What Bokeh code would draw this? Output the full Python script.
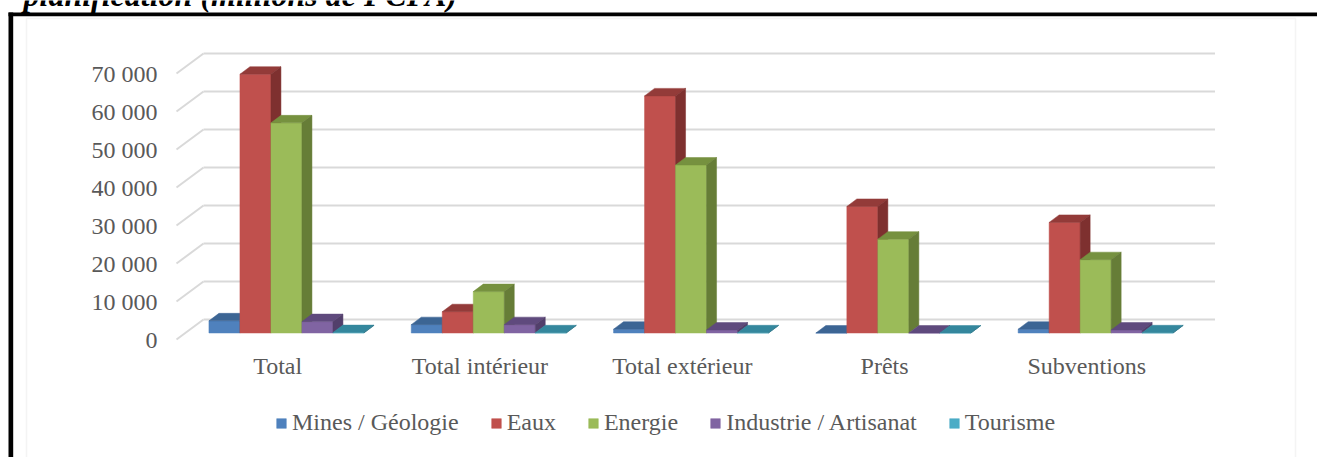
from bokeh.plotting import figure
from bokeh.models import (ColumnDataSource, Range1d, LinearAxis, FixedTicker,
                          Legend, LegendItem, BoxAnnotation, Label)
from bokeh.embed import file_html
from bokeh.resources import INLINE

# ---------------- data ----------------
title_text = "planification (millions de FCFA)"
categories = ["Total", "Total intérieur", "Total extérieur", "Prêts", "Subventions"]
series_names = ["Mines / Géologie", "Eaux", "Energie", "Industrie / Artisanat", "Tourisme"]
mines = [3200, 2200, 1000, 0, 1000]
eaux = [68100, 5600, 62400, 33300, 29100]
energie = [55300, 10900, 44200, 24700, 19300]
industrie = [3000, 2200, 800, 0, 800]
tourisme = [100, 50, 50, 0, 50]
y_ticks = [0, 10000, 20000, 30000, 40000, 50000, 60000, 70000]
y_tick_labels = ["0", "10 000", "20 000", "30 000", "40 000", "50 000", "60 000", "70 000"]

front_colors = ["#4F81BD", "#C0504D", "#9BBB59", "#8064A2", "#4BACC6"]
top_colors = ["#3C6594", "#933B39", "#76913F", "#5F4A7D", "#34879D"]
side_colors = ["#335580", "#7E302F", "#667D37", "#523F6B", "#2C7487"]

# ---------------- geometry (pixels) ----------------
W, H = 1317, 457
PAGE = 0
CAT = 202.3            # px per category
X_C0 = 277.15          # page x of first category centre (front plane)
Y_Z = 339.0            # page y of value 0 (front plane)
PXY = 38.0 / 10000.0   # px per value unit

def xd(px):
    return px / CAT

def yd(px):
    return px / PXY

def page_x(px):
    return (px - X_C0) / CAT

def page_y(py):
    return (Y_Z - py) / PXY

FX, FY = xd(8.8), yd(6.5)     # bar plane offset from front plane
DX, DY = xd(10.0), yd(7.5)    # bar depth
BX, BY = xd(27.0), yd(20.0)   # back wall offset
BW = xd(31.0)                 # bar width

FONT = "'Liberation Serif', 'Times New Roman', serif"
TXT = "#595959"
FS = "24px"

p = figure(width=W, height=H, output_backend="svg", toolbar_location=None,
           x_axis_type=None, y_axis_type=None,
           x_range=Range1d(page_x(PAGE), page_x(PAGE + W)),
           y_range=Range1d(page_y(PAGE + H), page_y(PAGE)),
           min_border=0)
p.outline_line_color = None
p.background_fill_color = "white"
p.border_fill_color = "white"

# document title, cut off at the top as in the source page
p.add_layout(Label(x=page_x(23), y=page_y(-6), text=title_text,
                   text_font=FONT, text_font_style="bold italic", text_font_size="32px",
                   text_color="black", text_baseline="alphabetic", text_align="left"))

# frame decorations (document border + chart area border)
p.add_layout(BoxAnnotation(left=page_x(8), right=page_x(1330), top=page_y(12), bottom=page_y(15.7),
                           fill_color="black", fill_alpha=1, line_color=None))
p.add_layout(BoxAnnotation(left=page_x(8), right=page_x(12.7), top=page_y(12), bottom=page_y(470),
                           fill_color="black", fill_alpha=1, line_color=None))
p.add_layout(BoxAnnotation(left=page_x(26), right=page_x(1295), top=page_y(18), bottom=page_y(480),
                           fill_alpha=0, line_color="#D9D9D9", line_width=1.5))

# back wall gridlines and side diagonals
n = len(categories)
p.segment(x0=[-0.5 + BX] * len(y_ticks), x1=[n - 0.5 + BX] * len(y_ticks),
          y0=[t + BY for t in y_ticks], y1=[t + BY for t in y_ticks],
          line_color="#D9D9D9", line_width=2)
p.segment(x0=[-0.5] * len(y_ticks), x1=[-0.5 + BX] * len(y_ticks),
          y0=y_ticks, y1=[t + BY for t in y_ticks],
          line_color="#D9D9D9", line_width=2)

# 3D bars
all_series = [mines, eaux, energie, industrie, tourisme]
legend_items = []
for s, vals in enumerate(all_series):
    left = [i + FX - 2.5 * BW + s * BW for i in range(n)]
    right = [l + BW for l in left]
    top = [v + FY for v in vals]
    src = ColumnDataSource(dict(left=left, right=right, top=top, bottom=[FY] * n))
    r = p.quad(left="left", right="right", top="top", bottom="bottom", source=src,
               fill_color=front_colors[s], line_color=front_colors[s], line_width=0.5)
    tops_x = [[l, rr, rr + DX, l + DX] for l, rr in zip(left, right)]
    tops_y = [[t, t, t + DY, t + DY] for t in top]
    p.patches(xs=tops_x, ys=tops_y, fill_color=top_colors[s], line_color=top_colors[s], line_width=0.5)
    side_x = [[rr, rr + DX, rr + DX, rr] for rr in right]
    side_y = [[FY, FY + DY, t + DY, t] for t in top]
    p.patches(xs=side_x, ys=side_y, fill_color=side_colors[s], line_color=side_colors[s], line_width=0.5)
    legend_items.append(LegendItem(label=series_names[s], renderers=[r]))

# axes
yaxis = LinearAxis(ticker=FixedTicker(ticks=y_ticks),
                   major_label_overrides={t: l for t, l in zip(y_ticks, y_tick_labels)},
                   fixed_location=-0.5)
yaxis.axis_line_color = None
yaxis.major_tick_line_color = None
yaxis.minor_tick_line_color = None
yaxis.major_tick_out = 0
yaxis.major_tick_in = 0
yaxis.major_label_standoff = 19
yaxis.major_label_text_font = FONT
yaxis.major_label_text_font_size = FS
yaxis.major_label_text_color = TXT
p.add_layout(yaxis, "left")

xaxis = LinearAxis(ticker=FixedTicker(ticks=list(range(n))),
                   major_label_overrides={i: c for i, c in enumerate(categories)},
                   fixed_location=0)
xaxis.axis_line_color = None
xaxis.major_tick_line_color = None
xaxis.minor_tick_line_color = None
xaxis.major_tick_out = 0
xaxis.major_tick_in = 0
xaxis.major_label_standoff = 13
xaxis.major_label_text_font = FONT
xaxis.major_label_text_font_size = FS
xaxis.major_label_text_color = TXT
p.add_layout(xaxis, "below")

legend = Legend(items=legend_items, orientation="horizontal", location=(275, 457 - 436),
                padding=0, margin=0, spacing=31, label_standoff=5,
                glyph_width=12, glyph_height=12,
                border_line_color=None, background_fill_alpha=0,
                label_text_font=FONT, label_text_font_size=FS, label_text_color=TXT)
p.add_layout(legend, "center")

open("out.html", "w").write(file_html(p, INLINE))
